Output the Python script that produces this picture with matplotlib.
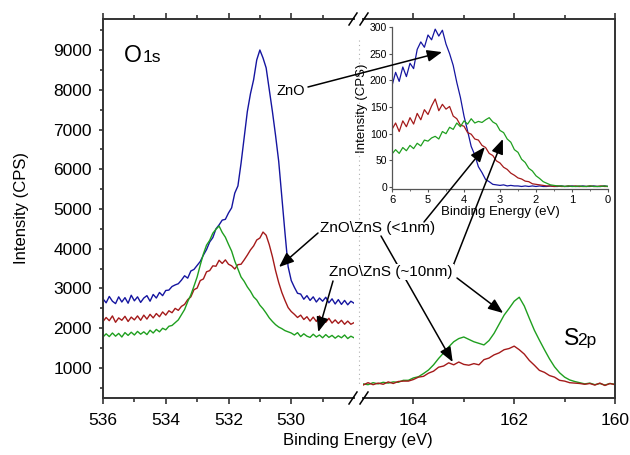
import numpy as np
import matplotlib
matplotlib.use('Agg')
import matplotlib.pyplot as plt
from matplotlib.lines import Line2D

plt.rcParams['font.family'] = ['Liberation Sans', 'DejaVu Sans']

# ---------------- data ----------------
# O1s region, binding energy 536.0 -> 528.0 eV (0.1 eV steps)
o1s_energy = np.linspace(536.0, 528.0, 81)
o1s_zno = [2740, 2640, 2800, 2680, 2620, 2790, 2660, 2770, 2630, 2830,
           2690, 2790, 2650, 2760, 2820, 2680, 2850, 2760, 2900, 2820,
           2950, 2960, 3050, 3090, 3120, 3210, 3320, 3260, 3440, 3480,
           3580, 3680, 3840, 3980, 4170, 4280, 4500, 4600, 4720, 4740,
           4900, 5030, 5400, 5580, 6150, 6800, 7450, 7900, 8250, 8750,
           9000, 8800, 8550, 8000, 7450, 6850, 6200, 5300, 4400, 3550,
           3200, 3030, 2880, 2860, 2730, 2820, 2700, 2790, 2660, 2760,
           2680, 2780, 2640, 2740, 2610, 2720, 2600, 2700, 2590, 2680,
           2630]
o1s_thin = [2170, 2270, 2190, 2310, 2150, 2260, 2200, 2300, 2170, 2280,
            2210, 2310, 2200, 2330, 2230, 2350, 2260, 2370, 2290, 2410,
            2330, 2440, 2390, 2500, 2450, 2550, 2600, 2720, 2790, 2970,
            3010, 3200, 3240, 3420, 3450, 3570, 3560, 3710, 3630, 3720,
            3610, 3570, 3490, 3600, 3610, 3720, 3840, 3970, 4070, 4220,
            4270, 4420, 4340, 4100, 3800, 3450, 3150, 2900, 2700, 2520,
            2420, 2350, 2270, 2330, 2220, 2290, 2180, 2280, 2170, 2310,
            2190, 2150, 2250, 2130, 2210, 2120, 2200, 2100, 2180, 2100,
            2140]
o1s_thick = [1780, 1860, 1790, 1880, 1800, 1870, 1780, 1890, 1820, 1900,
             1830, 1920, 1850, 1910, 1840, 1950, 1880, 1970, 1910, 2000,
             1960, 2050, 2070, 2140, 2210, 2340, 2470, 2670, 2840, 3060,
             3290, 3590, 3870, 4090, 4210, 4390, 4490, 4570, 4410, 4290,
             4110, 3940, 3690, 3490, 3290, 3180, 3040, 2930, 2790, 2710,
             2580, 2490, 2380, 2260, 2170, 2090, 2030, 1990, 1940, 1910,
             1880, 1830, 1890, 1790, 1860, 1800, 1770, 1850, 1780, 1830,
             1760, 1840, 1770, 1820, 1750, 1810, 1760, 1830, 1740, 1800,
             1760]

# S2p region, binding energy 165.0 -> 160.0 eV
s2p_energy = np.linspace(165.0, 160.0, 51)
s2p_thick = [600, 580, 630, 600, 640, 620, 650, 640, 690, 690,
             750, 780, 860, 950, 1080, 1240, 1380, 1530, 1660, 1740,
             1780, 1720, 1660, 1620, 1580, 1690, 1870, 2100, 2330, 2500,
             2680, 2780, 2560, 2250, 1950, 1700, 1460, 1230, 1030, 880,
             770, 700, 660, 630, 600, 620, 580, 610, 570, 610,
             590]
s2p_thin = [570, 630, 580, 620, 590, 650, 610, 660, 670, 670,
            710, 770, 790, 870, 920, 1020, 1050, 1130, 1080, 1150,
            1090, 1070, 1110, 1080, 1210, 1250, 1330, 1380, 1460, 1490,
            1550, 1460, 1350, 1190, 1070, 940, 890, 810, 770, 690,
            670, 630, 620, 610, 590, 610, 570, 620, 560, 610,
            580]

# Valence band (inset), binding energy 6.0 -> 0.0 eV
vb_energy = np.linspace(6.0, 0.0, 61)
vb_zno = [190, 215, 198, 225, 207, 232, 222, 258, 272, 262,
          285, 276, 296, 283, 294, 268, 250, 228, 196, 168,
          133, 105, 76, 60, 38, 27, 14, 10, 5, 4,
          3, 4, 2, 3, 2, 2, 1, 2, 1, 2,
          1, 2, 1, 1, 2, 1, 1, 2, 1, 1,
          2, 1, 1, 2, 1, 1, 2, 1, 1, 2,
          1]
vb_thin = [108, 120, 104, 124, 113, 130, 118, 138, 126, 145,
           136, 152, 165, 143, 155, 146, 151, 133, 128, 116,
           114, 102, 99, 90, 88, 78, 74, 63, 59, 49,
           45, 37, 33, 26, 22, 17, 15, 11, 10, 6,
           5, 4, 3, 2, 2, 1, 2, 1, 1, 2,
           1, 2, 1, 1, 1, 2, 1, 1, 2, 1,
           1]
vb_thick = [62, 70, 63, 74, 68, 78, 72, 82, 77, 88,
            86, 92, 95, 90, 104, 100, 112, 108, 120, 113,
            124, 118, 128, 120, 123, 121, 126, 130, 122, 118,
            106, 102, 90, 84, 70, 65, 52, 46, 35, 30,
            21, 16, 10, 7, 4, 3, 2, 2, 1, 2,
            1, 1, 2, 1, 1, 2, 1, 1, 1, 2,
            1]

left_xticks = [536, 534, 532, 530]
left_xminor = [535, 533, 531, 529]
right_xticks = [164, 162, 160]
right_xminor = [163, 161]
yticks = [1000, 2000, 3000, 4000, 5000, 6000, 7000, 8000, 9000]
yminor = [500, 1500, 2500, 3500, 4500, 5500, 6500, 7500, 8500, 9500]
inset_xticks = [6, 5, 4, 3, 2, 1, 0]
inset_yticks = [0, 50, 100, 150, 200, 250, 300]

BLUE = '#1515a0'
RED = '#a41a1a'
GREEN = '#1f9f1f'
SPINE = '#333333'

# ---------------- layout ----------------
W, H = 630, 455
fig = plt.figure(figsize=(6.3, 4.55), dpi=100)


def fx(x):
    return x / W


def fy(y):
    return 1 - y / H


def rect(l, t, r, b):
    return [l / W, 1 - b / H, (r - l) / W, (b - t) / H]


ax1 = fig.add_axes(rect(103, 19, 354, 398))
ax2 = fig.add_axes(rect(363, 19, 615, 398), sharey=ax1)
ins = fig.add_axes(rect(392, 27, 608, 189))

lw = 1.0
ax1.plot(o1s_energy, o1s_zno, color=BLUE, lw=lw)
ax1.plot(o1s_energy, o1s_thin, color=RED, lw=lw)
ax1.plot(o1s_energy, o1s_thick, color=GREEN, lw=lw)
ax2.plot(s2p_energy, s2p_thick, color=GREEN, lw=lw)
ax2.plot(s2p_energy, s2p_thin, color=RED, lw=lw)

ax1.set_xlim(536, 528)
ax2.set_xlim(165, 160)
ax1.set_ylim(245, 9780)

for ax in (ax1, ax2):
    for s in ax.spines.values():
        s.set_color(SPINE)
        s.set_linewidth(1.4)
    ax.tick_params(axis='x', which='both', direction='out', top=True,
                   labeltop=False, labelsize=12.5, colors=SPINE,
                   labelcolor='black', pad=6, width=1.2)
    ax.tick_params(axis='x', which='major', length=4.5)
    ax.tick_params(axis='x', which='minor', length=3)
    ax.patch.set_alpha(0)

ax1.spines['right'].set_visible(False)
ax2.spines['left'].set_visible(False)
ax1.set_xticks(left_xticks)
ax1.set_xticks(left_xminor, minor=True)
ax2.set_xticks(right_xticks)
ax2.set_xticks(right_xminor, minor=True)

ax1.set_yticks(yticks)
ax1.set_yticks(yminor, minor=True)
ax1.tick_params(axis='y', which='both', direction='out', labelsize=12.5,
                colors=SPINE, labelcolor='black', pad=5, width=1.2)
ax1.tick_params(axis='y', which='major', length=3)
ax1.tick_params(axis='y', which='minor', length=2)
ax2.tick_params(axis='y', which='both', left=False, right=False,
                labelleft=False)

# inset
ins.plot(vb_energy, vb_zno, color=BLUE, lw=0.9)
ins.plot(vb_energy, vb_thin, color=RED, lw=0.9)
ins.plot(vb_energy, vb_thick, color=GREEN, lw=0.9)
ins.set_xlim(6, 0)
ins.set_ylim(-3.75, 300)
ins.patch.set_alpha(0)
ins.spines['top'].set_visible(False)
ins.spines['right'].set_visible(False)
for s in ('left', 'bottom'):
    ins.spines[s].set_color('#555555')
    ins.spines[s].set_linewidth(0.9)
ins.set_xticks(inset_xticks)
ins.set_xticks([5.5, 4.5, 3.5, 2.5, 1.5, 0.5], minor=True)
ins.set_yticks(inset_yticks)
ins.tick_params(axis='x', which='both', direction='out', labelsize=8,
                pad=1.5, colors='#555555', labelcolor='black')
ins.tick_params(axis='x', which='major', length=2.5)
ins.tick_params(axis='x', which='minor', length=1.5)
ins.tick_params(axis='y', which='both', direction='out', labelsize=7.5,
                pad=1.5, length=2, colors='#555555', labelcolor='black')
ins.set_xlabel('Binding Energy (eV)', fontsize=9.5, labelpad=1)
ins.set_ylabel('Intensity (CPS)', fontsize=9.5, labelpad=1)

# axis titles
fig.text(fx(22), fy(208), 'Intensity (CPS)', rotation=90, fontsize=12,
         ha='center', va='center')
fig.text(fx(358), fy(441), 'Binding Energy (eV)', fontsize=12,
         ha='center', va='center')

# region labels
fig.text(fx(124), fy(62), 'O', fontsize=16.5, ha='left', va='baseline')
fig.text(fx(142.5), fy(62), '1s', fontsize=12.5, ha='left', va='baseline')
fig.text(fx(564), fy(345), 'S', fontsize=16.5, ha='left', va='baseline')
fig.text(fx(577.5), fy(345), '2p', fontsize=12.5, ha='left', va='baseline')

# break marks and dotted separator
for xc in (353, 364):
    for yc in (19, 398):
        fig.add_artist(Line2D([fx(xc - 4), fx(xc + 4)],
                              [fy(yc + 6), fy(yc - 6)],
                              transform=fig.transFigure, color='black',
                              lw=1.1))
fig.add_artist(Line2D([fx(359), fx(359)], [fy(40), fy(386)],
                      transform=fig.transFigure, color='#b0b0b0', lw=0.8,
                      ls=(0, (1, 3))))

# annotations
fig.text(fx(291), fy(91), 'ZnO', fontsize=10.5, ha='center', va='center')
fig.text(fx(378), fy(228), 'ZnO\\ZnS (<1nm)', fontsize=11, ha='center',
         va='center')
fig.text(fx(391), fy(272), 'ZnO\\ZnS (~10nm)', fontsize=11, ha='center',
         va='center', zorder=20,
         bbox=dict(facecolor='white', edgecolor='none', pad=0.5))

aprops = dict(arrowstyle='-|>,head_length=0.75,head_width=0.3',
              color='black', lw=1.1, shrinkA=0, shrinkB=0,
              mutation_scale=12)


def arrow(ax, tip, start_px):
    ax.annotate('', xy=tip, xycoords='data',
                xytext=(fx(start_px[0]), fy(start_px[1])),
                textcoords='figure fraction', arrowprops=aprops,
                annotation_clip=False)


arrow(ins, (4.61, 253), (308, 87))        # ZnO -> inset blue
arrow(ax1, (530.39, 3540), (318, 233))    # <1nm -> O1s red
arrow(ins, (3.42, 75), (424, 222))        # <1nm -> inset red
arrow(ax2, (163.22, 1150), (381, 236))    # <1nm -> S2p red
arrow(ax1, (529.14, 1905), (333, 281))    # ~10nm -> O1s green
arrow(ax2, (162.22, 2383), (457, 278))    # ~10nm -> S2p green
arrow(ins, (2.92, 90), (453, 266))        # ~10nm -> inset green

fig.savefig('out.png', dpi=100)
